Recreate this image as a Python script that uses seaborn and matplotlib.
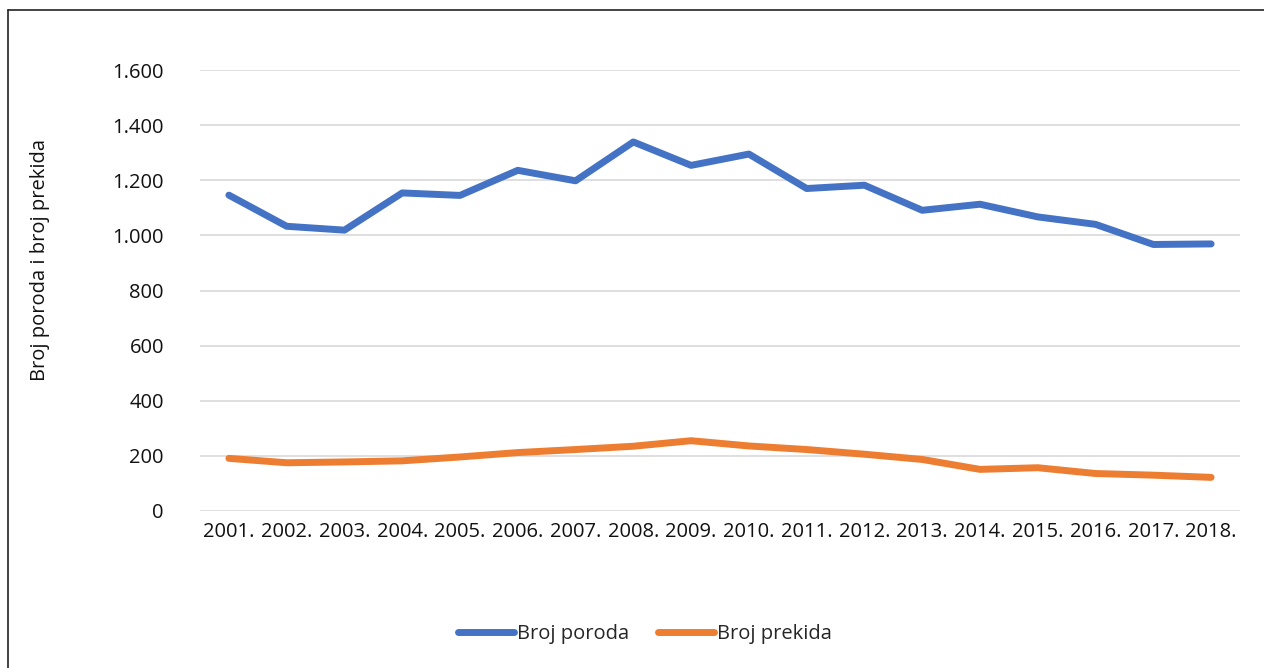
import matplotlib
matplotlib.use("Agg")
import matplotlib.pyplot as plt
import seaborn as sns
import pandas as pd
from matplotlib.ticker import FuncFormatter
from matplotlib.lines import Line2D

# data
years = ["2001.", "2002.", "2003.", "2004.", "2005.", "2006.", "2007.", "2008.", "2009.",
         "2010.", "2011.", "2012.", "2013.", "2014.", "2015.", "2016.", "2017.", "2018."]
broj_poroda = [1146, 1033, 1019, 1154, 1145, 1236, 1198, 1339, 1254,
               1295, 1170, 1182, 1091, 1113, 1067, 1040, 967, 969]
broj_prekida = [191, 175, 178, 182, 196, 212, 223, 235, 255,
                236, 223, 206, 187, 151, 157, 136, 130, 122]
series_names = ["Broj poroda", "Broj prekida"]
colors = ["#4472C4", "#ED7D31"]

df = pd.DataFrame({"Godina": years, series_names[0]: broj_poroda, series_names[1]: broj_prekida})
df_long = df.melt(id_vars="Godina", var_name="Serija", value_name="Broj")

sns.set_style("white")
plt.rcParams["font.family"] = ["Open Sans", "DejaVu Sans"]
fs = 14.5

fig = plt.figure(figsize=(12.64, 6.68), dpi=100)
ax = fig.add_axes([200 / 1264, 1 - 511 / 668, 1040 / 1264, 441 / 668])

sns.lineplot(data=df_long, x="Godina", y="Broj", hue="Serija", palette=colors,
             linewidth=5, ax=ax, legend=False, sort=False,
             solid_capstyle="round", solid_joinstyle="round", zorder=3)

ax.set_xlim(-0.5, len(years) - 0.5)
ax.set_ylim(0, 1600)
ax.set_yticks(range(0, 1601, 200))
ax.yaxis.set_major_formatter(FuncFormatter(lambda v, p: f"{int(v):,}".replace(",", ".")))
ax.grid(axis="y", color="#d9d9d9", linewidth=1.2, zorder=0)
ax.grid(axis="x", visible=False)
for s in ax.spines.values():
    s.set_visible(False)
ax.tick_params(axis="both", length=0, labelsize=fs, colors="#111111")
ax.tick_params(axis="y", pad=26)
ax.tick_params(axis="x", pad=8)
ax.set_xlabel("")
ax.set_ylabel("")

fig.text(40 / 1264, 1 - 260 / 668, "Broj poroda i broj prekida", rotation=90,
         ha="center", va="center", fontsize=fs, color="#111111")

handles = [Line2D([0], [0], color=c, linewidth=5, solid_capstyle="round") for c in colors]
fig.legend(handles, series_names, loc="center", bbox_to_anchor=(645 / 1264, 1 - 634 / 668),
           ncol=2, frameon=False, fontsize=fs, handlelength=2.8, handletextpad=0.15,
           columnspacing=1.4)

# chart border (only top and left visible in the reference)
fig.add_artist(Line2D([7.5 / 1264, 7.5 / 1264], [-0.01, 1 - 10 / 668], color="#222222", linewidth=1.2))
fig.add_artist(Line2D([7.5 / 1264, 1.01], [1 - 10 / 668, 1 - 10 / 668], color="#222222", linewidth=1.2))

fig.savefig("out.png", dpi=100, facecolor="white")
